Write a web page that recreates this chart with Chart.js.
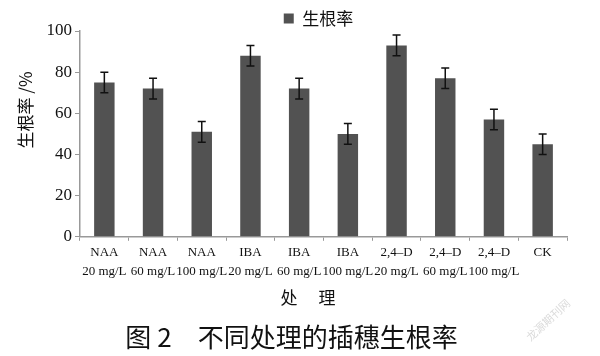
<!DOCTYPE html>
<html><head><meta charset="utf-8">
<script src="https://cdn.jsdelivr.net/npm/chart.js@4/dist/chart.umd.min.js"></script>
<style>html,body{margin:0;padding:0;background:#fff}#w{width:600px;height:356px}</style>
</head><body><div id="w"><canvas id="c"></canvas></div>
<script>
const categories = [['NAA','20 mg/L'],['NAA','60 mg/L'],['NAA','100 mg/L'],['IBA','20 mg/L'],['IBA','60 mg/L'],['IBA','100 mg/L'],['2,4\u2013D','20 mg/L'],['2,4\u2013D','60 mg/L'],['2,4\u2013D','100 mg/L'],['CK','']];
const rootingRate = [75, 72, 51, 88, 72, 50, 93, 77, 57, 45];
const errors = [5, 5, 5, 5, 5, 5, 5, 5, 5, 5];
const yTicks = [0, 20, 40, 60, 80, 100];

const serif = "'Liberation Serif', 'DejaVu Serif', serif";
const cjk = "'Noto Sans CJK SC', sans-serif";

const errorBars = {
  id: 'errorBars',
  afterDatasetsDraw(chart) {
    const ctx = chart.ctx, meta = chart.getDatasetMeta(0), y = chart.scales.y;
    ctx.save();
    ctx.strokeStyle = '#111';
    ctx.lineWidth = 1.5;
    meta.data.forEach((bar, i) => {
      const v = rootingRate[i], e = errors[i];
      const top = y.getPixelForValue(v + e), bot = y.getPixelForValue(v - e);
      ctx.beginPath();
      ctx.moveTo(bar.x, top); ctx.lineTo(bar.x, bot);
      ctx.moveTo(bar.x - 4, top); ctx.lineTo(bar.x + 4, top);
      ctx.moveTo(bar.x - 4, bot); ctx.lineTo(bar.x + 4, bot);
      ctx.stroke();
    });
    ctx.restore();
  }
};

const shiftBoxes = {
  id: 'shiftBoxes',
  afterLayout(chart) {
    const lg = chart.legend;
    if (lg) { lg.left += 35; lg.right += 35; lg.top += 6; lg.bottom += 6; }
    const t = chart.titleBlock;
    if (t) { t.left += 8; t.right += 8; }
  }
};

const extras = {
  id: 'extras',
  afterDraw(chart) {
    const ctx = chart.ctx;
    ctx.save();
    ctx.fillStyle = '#111';
    ctx.textAlign = 'center';
    ctx.textBaseline = 'middle';
    ctx.font = "17px " + cjk;
    ctx.fillText('处\u3000 理', 308, 298);
    ctx.translate(26, 110);
    ctx.rotate(-Math.PI / 2);
    ctx.fillText('生根率 /%', 0, 0);
    ctx.restore();
    ctx.save();
    ctx.translate(548, 320);
    ctx.rotate(-0.75);
    ctx.fillStyle = 'rgba(150,150,150,0.35)';
    ctx.font = "11px " + cjk;
    ctx.textAlign = 'center';
    ctx.fillText('龙源期刊网', 0, 0);
    ctx.restore();
  }
};

new Chart(document.getElementById('c'), {
  type: 'bar',
  data: {
    labels: categories,
    datasets: [{
      label: '生根率',
      data: rootingRate,
      backgroundColor: '#525252',
      borderWidth: 0,
      categoryPercentage: 1,
      barPercentage: 0.42
    }]
  },
  options: {
    responsive: true,
    maintainAspectRatio: false,
    animation: false,
    layout: { padding: { left: 0, right: 33, top: 4, bottom: 0 } },
    plugins: {
      tooltip: { enabled: false },
      legend: {
        position: 'top',
        labels: {
          boxWidth: 10, boxHeight: 10, padding: 0,
          color: '#111',
          font: { family: cjk, size: 17 }
        }
      },
      title: {
        display: true,
        position: 'bottom',
        text: '图 2　不同处理的插穗生根率',
        color: '#111',
        font: { family: cjk, size: 26, weight: 'normal', lineHeight: 1.2 },
        padding: { top: 1, bottom: 3 }
      }
    },
    scales: {
      x: {
        afterFit(s) { s.height = 84; },
        grid: { display: true, drawOnChartArea: false, drawTicks: true, tickLength: 4, color: '#999', offset: true },
        border: { color: '#999', width: 1.5 },
        ticks: { color: '#111', font: { family: serif, size: 13, lineHeight: 1.4 }, maxRotation: 0, autoSkip: false, padding: 3 }
      },
      y: {
        min: 0, max: 100,
        afterFit(s) { s.width = 80; },
        afterBuildTicks(s) { s.ticks = yTicks.map(v => ({ value: v })); },
        grid: { display: true, drawOnChartArea: false, drawTicks: true, tickLength: 5, color: '#999' },
        border: { color: '#999', width: 1.5 },
        ticks: { color: '#111', font: { family: serif, size: 17 }, padding: 3 }
      }
    }
  },
  plugins: [errorBars, shiftBoxes, extras]
});
</script>
</body></html>
